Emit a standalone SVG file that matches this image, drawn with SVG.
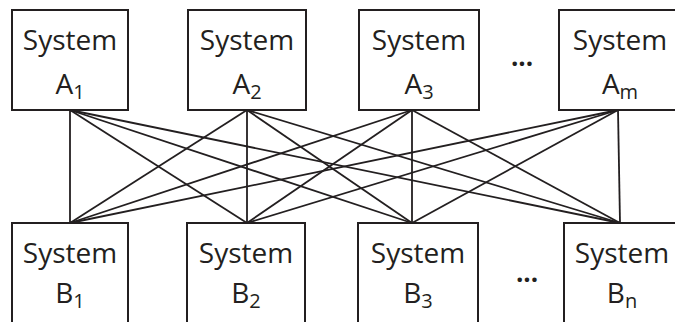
<svg xmlns="http://www.w3.org/2000/svg" width="675" height="322" viewBox="0 0 675 322">
<style>
.box{fill:#fff;stroke:#231f20;stroke-width:2}
.t{font-family:"Open Sans","Liberation Sans",sans-serif;font-size:28px;fill:#231f20;text-anchor:middle}
.sub{font-size:20px}
.c line{stroke:#231f20;stroke-width:1.8}
.dots{font-family:"Open Sans","Liberation Sans",sans-serif;font-size:26px;font-weight:bold;fill:#231f20;text-anchor:middle}
</style>
<rect width="675" height="322" fill="#fff"/>
<g class="c" id="connectors">
<line x1="70" y1="110" x2="70" y2="223"/>
<line x1="70" y1="110" x2="247" y2="223"/>
<line x1="70" y1="110" x2="412" y2="223"/>
<line x1="70" y1="110" x2="620" y2="223"/>
<line x1="247" y1="110" x2="70" y2="223"/>
<line x1="247" y1="110" x2="247" y2="223"/>
<line x1="247" y1="110" x2="412" y2="223"/>
<line x1="247" y1="110" x2="620" y2="223"/>
<line x1="412" y1="110" x2="70" y2="223"/>
<line x1="412" y1="110" x2="247" y2="223"/>
<line x1="412" y1="110" x2="412" y2="223"/>
<line x1="412" y1="110" x2="620" y2="223"/>
<line x1="618" y1="110" x2="70" y2="223"/>
<line x1="618" y1="110" x2="247" y2="223"/>
<line x1="618" y1="110" x2="412" y2="223"/>
<line x1="618" y1="110" x2="620" y2="223"/>
</g>
<g id="A1"><rect class="box" x="12" y="10" width="116" height="100"/><text class="t" x="70" y="50">System</text><text class="t" x="70" y="94">A<tspan class="sub" dy="5">1</tspan></text></g>
<g id="A2"><rect class="box" x="188" y="10" width="118" height="100"/><text class="t" x="247" y="50">System</text><text class="t" x="247" y="94">A<tspan class="sub" dy="5">2</tspan></text></g>
<g id="A3"><rect class="box" x="359" y="10" width="120" height="100"/><text class="t" x="419" y="50">System</text><text class="t" x="419" y="94">A<tspan class="sub" dy="5">3</tspan></text></g>
<g id="Am"><rect class="box" x="559" y="10" width="120" height="100"/><text class="t" x="620" y="50">System</text><text class="t" x="620" y="94">A<tspan class="sub" dy="5">m</tspan></text></g>
<g id="dotsA"><text class="dots" x="522" y="66">...</text></g>
<g id="B1"><rect class="box" x="12" y="223" width="116" height="110"/><text class="t" x="70" y="263">System</text><text class="t" x="70" y="303">B<tspan class="sub" dy="5">1</tspan></text></g>
<g id="B2"><rect class="box" x="187" y="223" width="118" height="110"/><text class="t" x="246" y="263">System</text><text class="t" x="246" y="303">B<tspan class="sub" dy="5">2</tspan></text></g>
<g id="B3"><rect class="box" x="358" y="223" width="120" height="110"/><text class="t" x="418" y="263">System</text><text class="t" x="418" y="303">B<tspan class="sub" dy="5">3</tspan></text></g>
<g id="Bn"><rect class="box" x="564" y="223" width="120" height="110"/><text class="t" x="622" y="263">System</text><text class="t" x="622" y="303">B<tspan class="sub" dy="5">n</tspan></text></g>
<g id="dotsB"><text class="dots" x="527" y="282">...</text></g>
</svg>
